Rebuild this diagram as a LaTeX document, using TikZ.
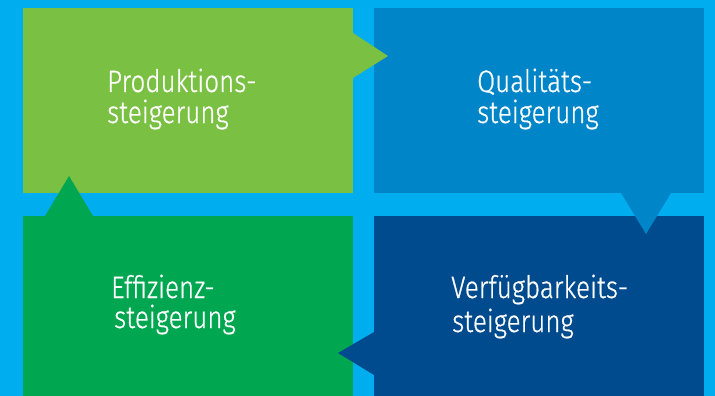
\documentclass[tikz,border=0pt]{standalone}
\usepackage{fontspec}
\newfontfamily\lblfont{Fira Sans}[UprightFont={* Light}, FakeStretch=0.84, FakeBold=0.6]
\definecolor{bgcyan}{HTML}{00AEEF}
\definecolor{lgreen}{HTML}{7AC143}
\definecolor{mblue}{HTML}{0086C8}
\definecolor{dblue}{HTML}{004B8D}
\definecolor{dgreen}{HTML}{00A650}
\tikzset{
  quad/.style={draw=none, rectangle, inner sep=0pt, outer sep=0pt},
  lbl/.style={text=white, font=\lblfont\fontsize{31}{31}\selectfont, inner sep=0pt, anchor=base west}
}
\begin{document}
\begin{tikzpicture}[x=1pt,y=-1pt]
\fill[bgcyan] (0,0) rectangle (715,396);
\useasboundingbox (0,0) rectangle (715,396);
% boxes
\node[quad, fill=lgreen, minimum width=330pt, minimum height=185pt, anchor=north west] (pq) at (23,8) {};
\node[quad, fill=mblue, minimum width=330pt, minimum height=185pt, anchor=north west] (qq) at (374,8) {};
\node[quad, fill=dblue, minimum width=330pt, minimum height=180pt, anchor=north west] (vq) at (374,216) {};
\node[quad, fill=dgreen, minimum width=330pt, minimum height=180pt, anchor=north west] (eq) at (23,216) {};
% arrow heads
\fill[lgreen] ([yshift=-25pt]pq.north east) -- ([xshift=35pt,yshift=-48pt]pq.north east) -- ([yshift=-70pt]pq.north east) -- cycle;
\fill[mblue] ([xshift=-83pt]qq.south east) -- ([xshift=-58pt,yshift=-41pt]qq.south east) -- ([xshift=-33pt]qq.south east) -- cycle;
\fill[dblue] ([yshift=-116pt]vq.north west) -- ([xshift=-36pt,yshift=-137pt]vq.north west) -- ([yshift=-159pt]vq.north west) -- cycle;
\fill[dgreen] ([xshift=22pt]eq.north west) -- ([xshift=46pt,yshift=40pt]eq.north west) -- ([xshift=70pt]eq.north west) -- cycle;
% labels
\node[lbl] (p1) at (107,92) {Produktions-};
\node[lbl] (p2) at (107,123) {steigerung};
\node[lbl] (q1) at (477,92) {Qualitäts-};
\node[lbl] (q2) at (477,123) {steigerung};
\node[lbl] (e1) at (111,298) {Effizienz-};
\node[lbl] (e2) at (114,328) {steigerung};
\node[lbl] (v1) at (451,298) {Verfügbarkeits-};
\node[lbl] (v2) at (452,332) {steigerung};
\end{tikzpicture}
\end{document}
